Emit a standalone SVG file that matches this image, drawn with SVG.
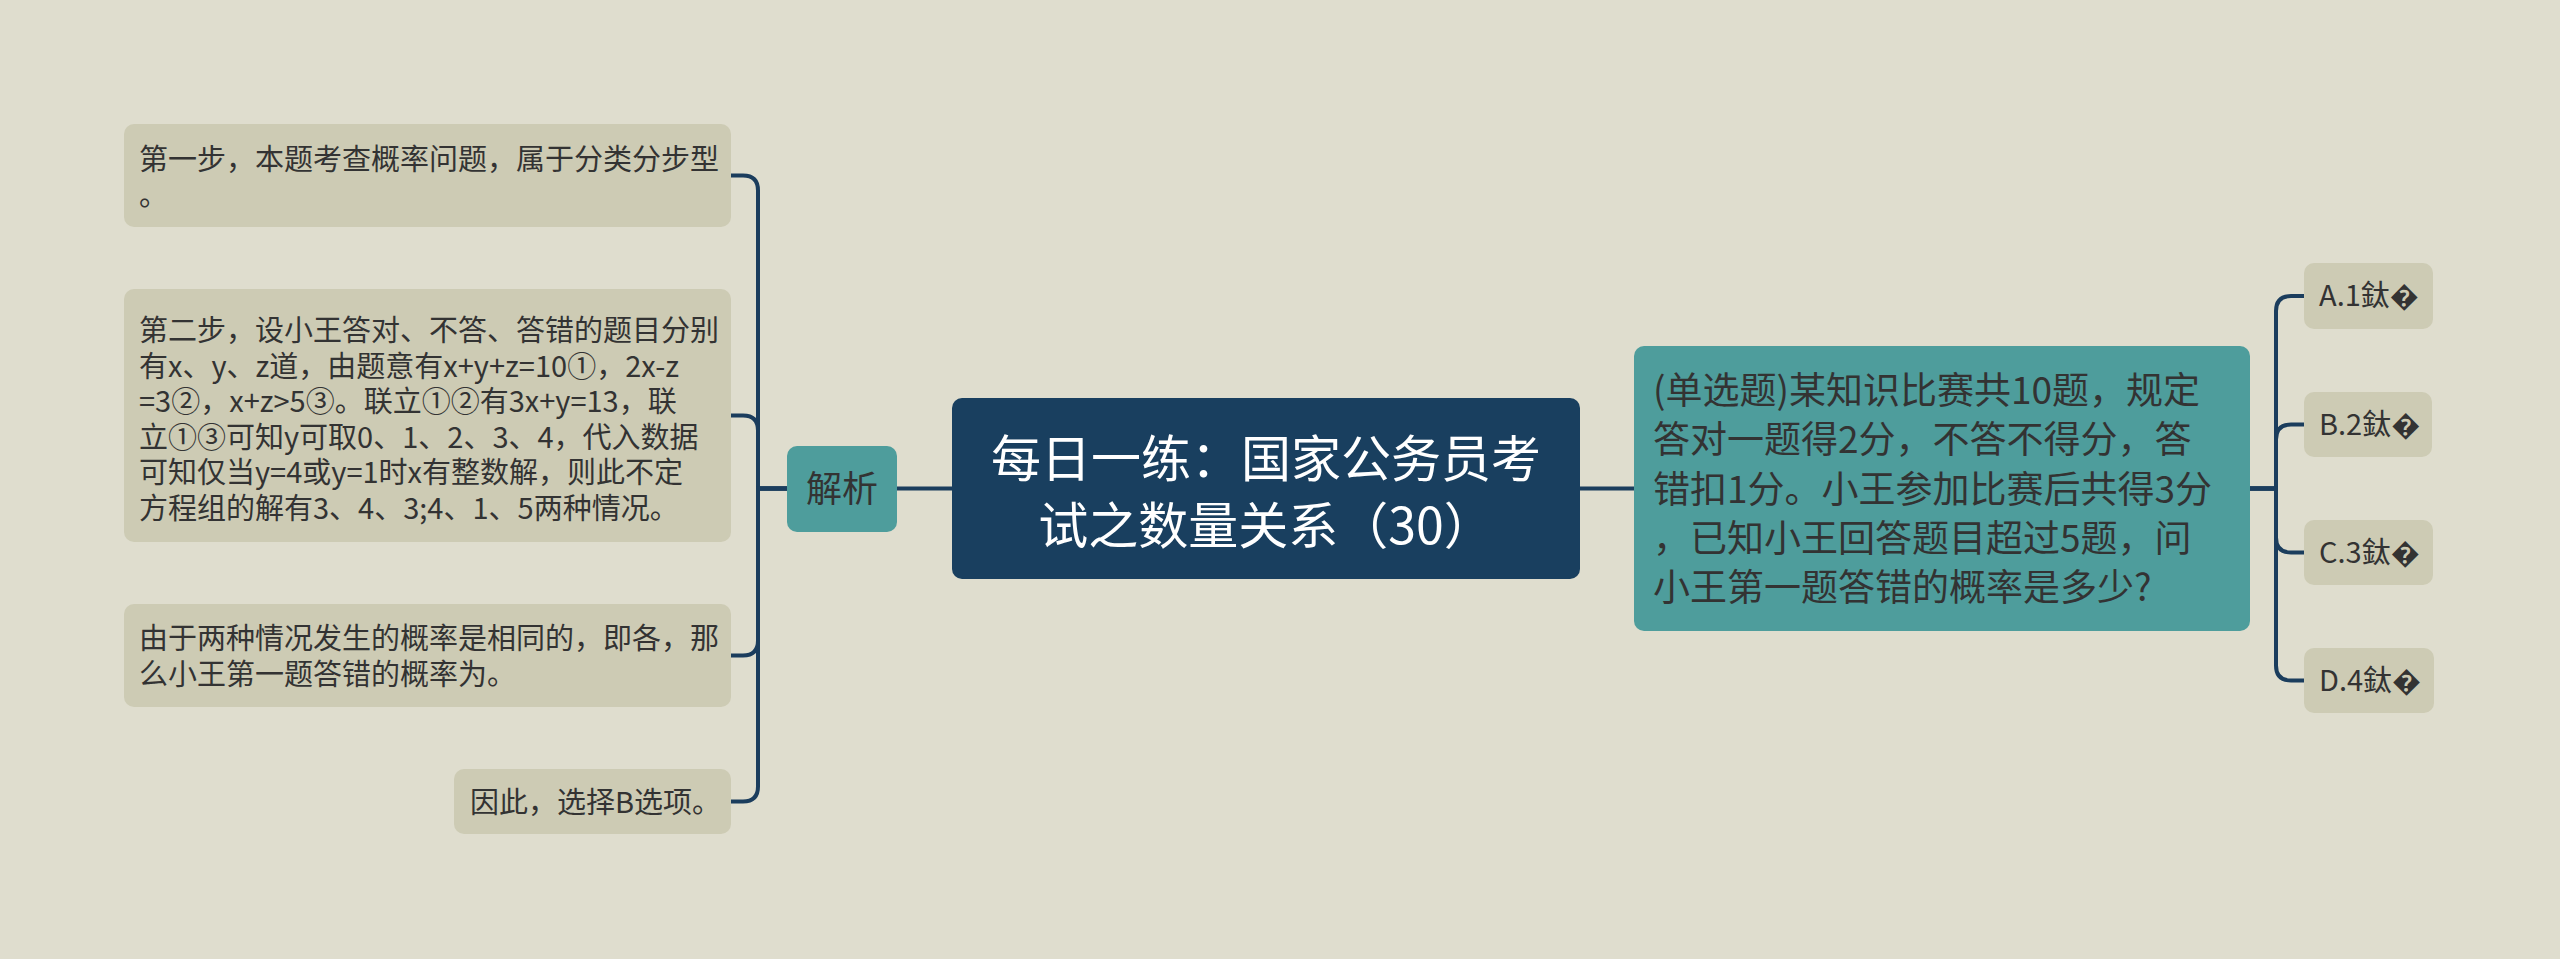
<svg xmlns="http://www.w3.org/2000/svg" width="2560" height="959" viewBox="0 0 2560 959">
<style>
.bg{fill:#dfddce}
.leaf{fill:#cdcbb4}
.teal{fill:#4e9d9c}
.root{fill:#193f5f}
.t{font-family:"Noto Sans CJK SC","Noto Sans",sans-serif;fill:#333333}
.s29{font-size:29px}
.s37{font-size:37px}
.s36{font-size:36px}
.rt{font-family:"Noto Sans CJK SC","Noto Sans",sans-serif;fill:#ffffff;font-size:50px}
.conn{fill:none;stroke:#1b3d5d;stroke-width:4;stroke-linecap:round;stroke-linejoin:round}
</style>
<rect class="bg" x="0" y="0" width="2560" height="959"/>
<g id="connectors">
<path class="conn" d="M787 488.5 H758 V190.5 Q758 175.5 743 175.5 H731"/>
<path class="conn" d="M787 488.5 H758 V430.5 Q758 415.5 743 415.5 H731"/>
<path class="conn" d="M787 488.5 H758 V640.5 Q758 655.5 743 655.5 H731"/>
<path class="conn" d="M787 488.5 H758 V786.5 Q758 801.5 743 801.5 H731"/>
<path class="conn" d="M897 488.5 H952"/>
<path class="conn" d="M1580 488.5 H1634"/>
<path class="conn" d="M2250 488.5 H2276 V311 Q2276 296 2291 296 H2304"/>
<path class="conn" d="M2250 488.5 H2276 V439.5 Q2276 424.5 2291 424.5 H2304"/>
<path class="conn" d="M2250 488.5 H2276 V537.5 Q2276 552.5 2291 552.5 H2304"/>
<path class="conn" d="M2250 488.5 H2276 V665.5 Q2276 680.5 2291 680.5 H2304"/>
</g>
<g id="root">
<rect class="root" x="952" y="398" width="628" height="181" rx="10"/>
<text class="rt" x="1266" y="477" text-anchor="middle">每日一练：国家公务员考</text>
<text class="rt" x="1266" y="543.5" text-anchor="middle">试之数量关系（30）</text>
</g>
<g id="jiexi">
<rect class="teal" x="787" y="446" width="110" height="86" rx="10"/>
<text class="t s36" x="842" y="502" text-anchor="middle">解析</text>
</g>
<g id="step1">
<rect class="leaf" x="124" y="124" width="607" height="103" rx="10"/>
<text class="t s29" x="139" y="170">第一步，本题考查概率问题，属于分类分步型</text>
<text class="t s29" x="139" y="205.5">。</text>
</g>
<g id="step2">
<rect class="leaf" x="124" y="289" width="607" height="253" rx="10"/>
<text class="t s29" x="139" y="341">第二步，设小王答对、不答、答错的题目分别</text>
<text class="t s29" x="139" y="376.5">有x、y、z道，由题意有x+y+z=10①，2x-z</text>
<text class="t s29" x="139" y="412">=3②，x+z&gt;5③。联立①②有3x+y=13，联</text>
<text class="t s29" x="139" y="447.5">立①③可知y可取0、1、2、3、4，代入数据</text>
<text class="t s29" x="139" y="483">可知仅当y=4或y=1时x有整数解，则此不定</text>
<text class="t s29" x="139" y="518.5">方程组的解有3、4、3;4、1、5两种情况。</text>
</g>
<g id="step3">
<rect class="leaf" x="124" y="604" width="607" height="103" rx="10"/>
<text class="t s29" x="139" y="649">由于两种情况发生的概率是相同的，即各，那</text>
<text class="t s29" x="139" y="684.5">么小王第一题答错的概率为。</text>
</g>
<g id="step4">
<rect class="leaf" x="454" y="769" width="277" height="65" rx="10"/>
<text class="t s29" x="470" y="813">因此，选择B选项。</text>
</g>
<g id="question">
<rect class="teal" x="1634" y="346" width="616" height="285" rx="10"/>
<text class="t s37" x="1653" y="404">(单选题)某知识比赛共10题，规定</text>
<text class="t s37" x="1653" y="453.3">答对一题得2分，不答不得分，答</text>
<text class="t s37" x="1653" y="502.6">错扣1分。小王参加比赛后共得3分</text>
<text class="t s37" x="1653" y="551.9">，已知小王回答题目超过5题，问</text>
<text class="t s37" x="1653" y="601.2">小王第一题答错的概率是多少?</text>
</g>
<g id="optA">
<rect class="leaf" x="2304" y="263" width="129" height="66" rx="10"/>
<text class="t s29" x="2319" y="306">A.1鈦&#xFFFD;</text>
</g>
<g id="optB">
<rect class="leaf" x="2304" y="392" width="128" height="65" rx="10"/>
<text class="t s29" x="2319" y="434.5">B.2鈦&#xFFFD;</text>
</g>
<g id="optC">
<rect class="leaf" x="2304" y="520" width="129" height="65" rx="10"/>
<text class="t s29" x="2319" y="562.5">C.3鈦&#xFFFD;</text>
</g>
<g id="optD">
<rect class="leaf" x="2304" y="648" width="130" height="65" rx="10"/>
<text class="t s29" x="2319" y="690.5">D.4鈦&#xFFFD;</text>
</g>
</svg>
